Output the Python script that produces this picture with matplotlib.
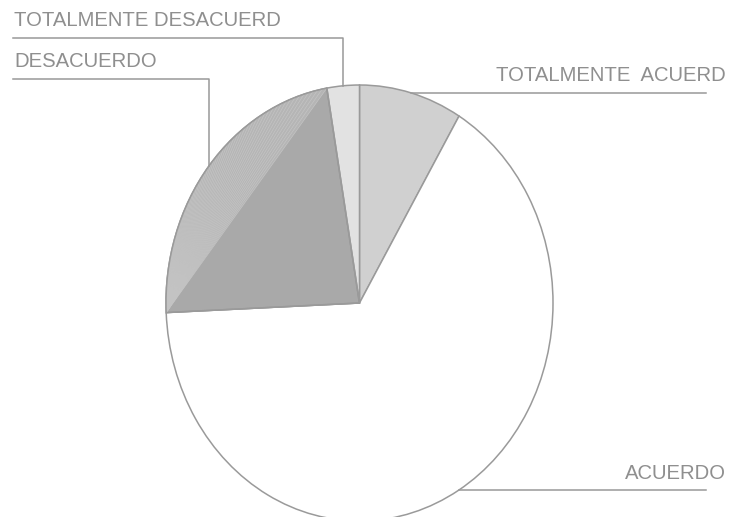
import numpy as np
import matplotlib.pyplot as plt
from matplotlib.patches import Polygon, Wedge

plt.rcParams['font.family'] = ['Liberation Sans', 'DejaVu Sans']

labels = ['TOTALMENTE  ACUERD', 'ACUERDO', 'DESACUERDO', 'TOTALMENTE DESACUERD']
shares = [8.6, 65.7, 23.0, 2.7]
colors = ['#d0d0d0', '#ffffff', '#a9a9a9', '#e2e2e2']
# which side each label sits on, and the height (px from top) of its leader for left labels
sides = ['right', 'right', 'left', 'left']
left_line_y = {2: 79, 3: 38}

W, H = 736, 517
fig = plt.figure(figsize=(W / 100, H / 100), dpi=100)
ax = fig.add_axes([0, 0, 1, 1])

# pie centre and radii in pixels; the pie is stretched vertically
CX, CY, RX, RY = 359.5, 303, 193.5, 218


def dx(px):
    return (px - CX) / RX


def dy(py):
    return (CY - py) / RY


edge = '#9a9a9a'
wedges, _ = ax.pie(shares, colors=colors, startangle=90, counterclock=False,
                   wedgeprops=dict(edgecolor=edge, linewidth=1.1))
ax.set_aspect('auto')
ax.set_xlim(dx(0), dx(W))
ax.set_ylim(dy(H), dy(0))
ax.axis('off')

# streaky lighter band between the chord and the arc of the DESACUERDO slice
w = wedges[2]
t = np.radians(np.linspace(w.theta1, w.theta2, 120))
arc = np.column_stack([np.cos(t), np.sin(t)])
ax.add_patch(Polygon(arc, closed=True, facecolor='#b5b5b5', edgecolor='none', zorder=3))
p0 = arc[-1]
for q in arc[::2]:
    ax.plot([p0[0], q[0]], [p0[1], q[1]], color='#c4c4c4', lw=0.5, zorder=3)
ax.add_patch(Wedge((0, 0), 1, w.theta1, w.theta2, facecolor='none',
                   edgecolor=edge, linewidth=1.1, zorder=4))

line_col = '#999999'
text_col = '#8f8f8f'
for i, wd in enumerate(wedges):
    mid = np.radians((wd.theta1 + wd.theta2) / 2)
    rx, ry = np.cos(mid), np.sin(mid)
    if sides[i] == 'left':
        ly = dy(left_line_y[i])
        ax.plot([rx, rx, dx(13)], [ry, ly, ly], color=line_col, lw=1.1, zorder=5,
                clip_on=False)
        ax.text(dx(14), ly + 17 / RY, labels[i], ha='left', va='center',
                fontsize=14.6, color=text_col)
    else:
        ax.plot([rx, dx(706)], [ry, ry], color=line_col, lw=1.1, zorder=5)
        ax.text(dx(726), ry + 17 / RY, labels[i], ha='right', va='center',
                fontsize=14.6, color=text_col)

fig.savefig('out.png', dpi=100)
